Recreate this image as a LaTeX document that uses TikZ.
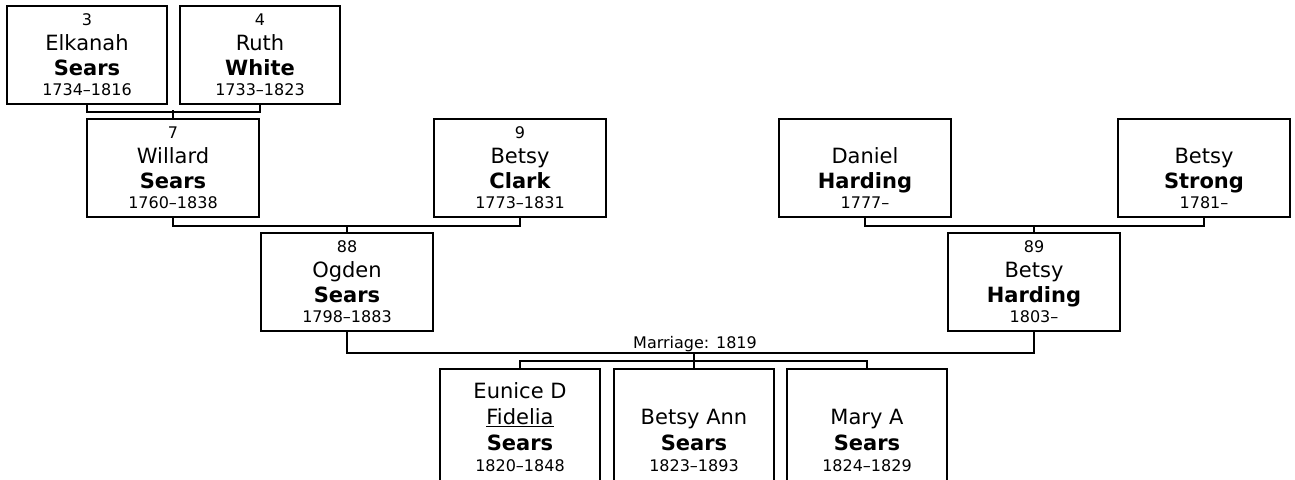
\documentclass[tikz,border=0pt]{standalone}
\usepackage{fontspec}
\setmainfont{DejaVu Sans}
\newcommand{\given}[1]{{\fontsize{15.75}{18}\selectfont #1}}
\newcommand{\sur}[1]{{\fontsize{15.75}{18}\selectfont\bfseries #1}}
\newcommand{\yrs}[1]{{\fontsize{12}{14}\selectfont #1}}

\begin{document}
\begin{tikzpicture}[x=0.75pt,y=-0.75pt,
 person/.style={draw,line width=1.5pt,anchor=north,align=center,inner sep=0pt,
 minimum width=129pt,minimum height=73.5pt,font=\fontsize{12}{18.75}\selectfont},
 elder/.style={person,minimum width=120pt},
 kid/.style={person,minimum width=120pt,minimum height=87pt,font=\fontsize{15.75}{19.75}\selectfont},
 link/.style={line width=1.5pt}]
\useasboundingbox (0,0) rectangle (1295,479);
\clip (0,0) rectangle (1295,479);
\node[elder] (elkanah) at (87,5) {3\\\given{Elkanah}\\\sur{Sears}\\[-3.75pt]1734–1816};
\node[elder] (ruth) at (260,5) {4\\\given{Ruth}\\\sur{White}\\[-3.75pt]1733–1823};
\node[person] (willard) at (173,118) {7\\\given{Willard}\\\sur{Sears}\\[-3.75pt]1760–1838};
\node[person] (clark) at (520,118) {9\\\given{Betsy}\\\sur{Clark}\\[-3.75pt]1773–1831};
\node[person] (daniel) at (865,118) {\vphantom{0}\\\given{Daniel}\\\sur{Harding}\\[-3.75pt]1777–};
\node[person] (strong) at (1204,118) {\vphantom{0}\\\given{Betsy}\\\sur{Strong}\\[-3.75pt]1781–};
\node[person] (ogden) at (347,232) {88\\\given{Ogden}\\\sur{Sears}\\[-3.75pt]1798–1883};
\node[person] (harding) at (1034,232) {89\\\given{Betsy}\\\sur{Harding}\\[-3.75pt]1803–};
\node[kid] (eunice) at (520,368) {Eunice D\\\underline{Fidelia}\\\textbf{Sears}\\[-4.1pt]\yrs{1820–1848}};
\node[kid] (betsyann) at (694,368) {\vphantom{E}\\Betsy Ann\\\textbf{Sears}\\[-4.1pt]\yrs{1823–1893}};
\node[kid] (mary) at (867,368) {\vphantom{E}\\Mary A\\\textbf{Sears}\\[-4.1pt]\yrs{1824–1829}};
\coordinate (wed) at (694,353);
\node[font=\fontsize{12}{14}\selectfont,anchor=base] (weddate) at (695,348) {Marriage: 1819};
\draw[link] (elkanah.south) -- ++(0,7) -| (ruth.south);
\draw[link] (willard.north) -- ++(0,-8);
\draw[link] (willard.south) -- ++(0,8) -| (clark.south);
\draw[link] (ogden.north) -- ++(0,-7);
\draw[link] (daniel.south) -- ++(0,8) -| (strong.south);
\draw[link] (harding.north) -- ++(0,-7);
\draw[link] (ogden.south) |- (wed) -| (harding.south);
\draw[link] (wed) -- (betsyann.north);
\draw[link] (eunice.north) -- ++(0,-7) -| (mary.north);
\end{tikzpicture}
\end{document}
